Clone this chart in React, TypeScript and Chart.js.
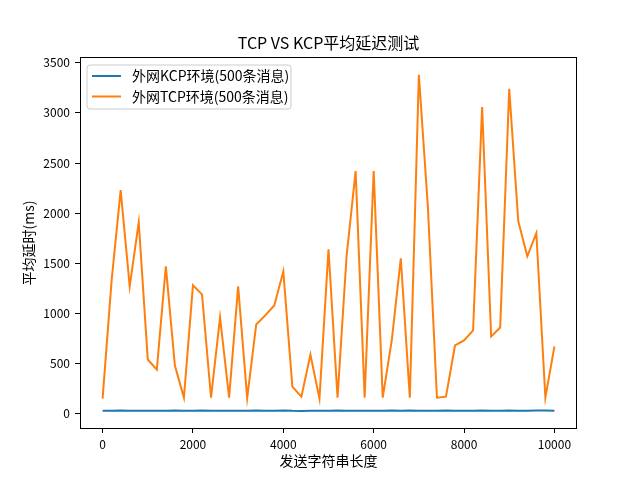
import React, { useEffect, useRef } from "react";
import { Chart, registerables } from "chart.js";

Chart.register(...registerables);

const TITLE = "TCP VS KCP平均延迟测试";
const X_LABEL = "发送字符串长度";
const Y_LABEL = "平均延时(ms)";
const SERIES_NAMES = ["外网KCP环境(500条消息)", "外网TCP环境(500条消息)"];

const xValues = [
  0, 200, 400, 600, 800, 1000, 1200, 1400, 1600, 1800, 2000, 2200, 2400, 2600, 2800,
  3000, 3200, 3400, 3600, 3800, 4000, 4200, 4400, 4600, 4800, 5000, 5200, 5400, 5600,
  5800, 6000, 6200, 6400, 6600, 6800, 7000, 7200, 7400, 7600, 7800, 8000, 8200, 8400,
  8600, 8800, 9000, 9200, 9400, 9600, 9800, 10000,
];

const kcpValues = [
  30, 29, 31, 28, 29, 30, 30, 29, 31, 30, 29, 31, 30, 29, 30, 29, 30, 31, 30, 29, 31,
  28, 27, 30, 29, 30, 31, 29, 30, 30, 29, 30, 31, 30, 32, 30, 29, 30, 31, 30, 29, 30,
  31, 29, 30, 31, 29, 30, 31, 31, 30,
];

const tcpValues = [
  150, 1330, 2230, 1270, 1910, 540, 440, 1470, 480, 160, 1280, 1190, 160, 960, 160,
  1270, 155, 890, 980, 1080, 1420, 270, 170, 590, 150, 1640, 160, 1570, 2420, 160,
  2420, 160, 730, 1550, 160, 3380, 2060, 160, 170, 680, 730, 830, 3060, 770, 860,
  3240, 1920, 1570, 1800, 160, 670,
];

const yTicks = [0, 500, 1000, 1500, 2000, 2500, 3000, 3500];
const xTicks = [0, 2000, 4000, 6000, 8000, 10000];

const COLORS = ["#1f77b4", "#ff7f0e"];
const FONT = '"Noto Sans CJK SC", "DejaVu Sans", sans-serif';

const overlayPlugin = {
  id: "overlay",
  afterDraw(chart: any) {
    const { ctx, chartArea: a } = chart;
    ctx.save();
    // frame
    ctx.strokeStyle = "#000";
    ctx.lineWidth = 1;
    ctx.strokeRect(
      Math.round(a.left) + 0.5,
      Math.round(a.top) - 0.5,
      Math.round(a.right - a.left) - 1,
      Math.round(a.bottom - a.top) + 1
    );
    // title
    ctx.fillStyle = "#000";
    ctx.textAlign = "center";
    ctx.textBaseline = "middle";
    ctx.font = `16px ${FONT}`;
    ctx.fillText(TITLE, (a.left + a.right) / 2, 43);
    // x label
    ctx.font = `14px ${FONT}`;
    ctx.fillText(X_LABEL, (a.left + a.right) / 2, 461);
    // y label
    ctx.save();
    ctx.translate(29, (a.top + a.bottom) / 2);
    ctx.rotate(-Math.PI / 2);
    ctx.fillText(Y_LABEL, 0, 0);
    ctx.restore();
    // legend
    const bx = a.left + 7;
    const by = a.top + 7;
    const bw = 204;
    const bh = 44;
    const r = 3;
    ctx.beginPath();
    ctx.moveTo(bx + r, by);
    ctx.lineTo(bx + bw - r, by);
    ctx.arcTo(bx + bw, by, bx + bw, by + r, r);
    ctx.lineTo(bx + bw, by + bh - r);
    ctx.arcTo(bx + bw, by + bh, bx + bw - r, by + bh, r);
    ctx.lineTo(bx + r, by + bh);
    ctx.arcTo(bx, by + bh, bx, by + bh - r, r);
    ctx.lineTo(bx, by + r);
    ctx.arcTo(bx, by, bx + r, by, r);
    ctx.closePath();
    ctx.fillStyle = "rgba(255,255,255,0.8)";
    ctx.fill();
    ctx.strokeStyle = "#cccccc";
    ctx.lineWidth = 1;
    ctx.stroke();
    ctx.textAlign = "left";
    ctx.font = `14px ${FONT}`;
    SERIES_NAMES.forEach((name, i) => {
      const y = by + 11 + i * 20.5;
      ctx.strokeStyle = COLORS[i];
      ctx.lineWidth = 2;
      ctx.beginPath();
      ctx.moveTo(bx + 5, y);
      ctx.lineTo(bx + 34, y);
      ctx.stroke();
      ctx.fillStyle = "#000";
      ctx.fillText(name, bx + 45, y);
    });
    ctx.restore();
  },
};

export default function App() {
  const ref = useRef<HTMLCanvasElement | null>(null);
  useEffect(() => {
    if (!ref.current) return;
    const chart = new Chart(ref.current, {
      type: "line",
      data: {
        datasets: [
          {
            label: SERIES_NAMES[0],
            data: xValues.map((x, i) => ({ x, y: kcpValues[i] })),
            borderColor: COLORS[0],
            backgroundColor: COLORS[0],
            borderWidth: 2,
            pointRadius: 0,
            tension: 0,
          },
          {
            label: SERIES_NAMES[1],
            data: xValues.map((x, i) => ({ x, y: tcpValues[i] })),
            borderColor: COLORS[1],
            backgroundColor: COLORS[1],
            borderWidth: 2,
            pointRadius: 0,
            tension: 0,
          },
        ],
      },
      options: {
        responsive: false,
        animation: false,
        devicePixelRatio: 1,
        layout: { padding: { top: 58, right: 63, left: 0, bottom: 0 } },
        plugins: {
          legend: { display: false },
          title: { display: false },
          tooltip: { enabled: false },
        },
        scales: {
          x: {
            type: "linear",
            min: -500,
            max: 10500,
            afterBuildTicks: (s: any) => {
              s.ticks = xTicks.map((v) => ({ value: v }));
            },
            afterFit: (s: any) => {
              s.height = 52;
            },
            grid: {
              display: true,
              drawOnChartArea: false,
              drawTicks: true,
              tickLength: 5,
              tickColor: "#000",
              color: "#000",
            },
            border: { display: false },
            ticks: {
              padding: 4,
              color: "#000",
              maxRotation: 0,
              autoSkip: false,
              font: { family: FONT, size: 12 },
              callback: (v: any) => String(v),
            },
          },
          y: {
            type: "linear",
            min: -143,
            max: 3548,
            afterBuildTicks: (s: any) => {
              s.ticks = yTicks.map((v) => ({ value: v }));
            },
            afterFit: (s: any) => {
              s.width = 80;
            },
            grid: {
              display: true,
              drawOnChartArea: false,
              drawTicks: true,
              tickLength: 5,
              tickColor: "#000",
              color: "#000",
            },
            border: { display: false },
            ticks: {
              padding: 5,
              color: "#000",
              autoSkip: false,
              font: { family: FONT, size: 12 },
              callback: (v: any) => String(v),
            },
          },
        },
      },
      plugins: [overlayPlugin],
    });
    return () => chart.destroy();
  }, []);
  return (
    <div style={{ position: "fixed", left: 0, top: 0, width: 640, height: 480, background: "#fff" }}>
      <canvas ref={ref} width={640} height={480} style={{ width: 640, height: 480, display: "block" }} />
    </div>
  );
}
